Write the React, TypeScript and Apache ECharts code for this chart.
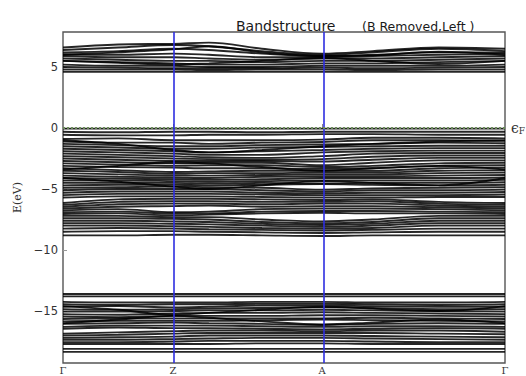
import React, { useEffect, useRef } from "react";
import * as echarts from "echarts";

// k-path sample positions (fractional distance along Γ–Z–A–Γ)
const kPos = [0, 0.125, 0.249, 0.33, 0.45, 0.586, 0.7, 0.85, 1];
const kTicks = [0, 0.249, 0.586, 1];
const kLabels = ["Γ", "Z", "A", "Γ"];
const yTicks = [-15, -10, -5, 0, 5];
const fermiLevel = 0;

// Conduction bands (eV) sampled at kPos
const conductionBands = [
  [6.6, 6.85, 6.9, 7.0, 6.5, 6.1, 6.3, 6.6, 6.5],
  [6.4, 6.6, 6.8, 6.7, 6.3, 6.0, 6.2, 6.5, 6.3],
  [6.2, 6.3, 6.5, 6.4, 6.1, 5.9, 6.0, 6.2, 6.2],
  [6.05, 6.0, 6.1, 6.0, 5.8, 5.8, 5.9, 6.0, 6.1],
  [5.9, 5.8, 5.8, 5.7, 5.6, 5.7, 5.7, 5.8, 5.9],
  [5.7, 5.6, 5.5, 5.5, 5.4, 5.5, 5.5, 5.6, 5.7],
  [5.5, 5.4, 5.3, 5.2, 5.2, 5.3, 5.3, 5.4, 5.5],
  [5.2, 5.1, 5.1, 5.0, 5.0, 5.1, 5.1, 5.1, 5.2],
  [5.0, 4.95, 4.9, 4.9, 4.9, 4.95, 4.9, 4.95, 5.0],
  [4.8, 4.8, 4.8, 4.75, 4.8, 4.8, 4.75, 4.8, 4.8],
  [4.6, 4.6, 4.6, 4.6, 4.6, 4.6, 4.6, 4.6, 4.6],
  [6.0, 6.2, 6.45, 6.7, 6.2, 5.9, 5.95, 6.25, 6.0],
  [5.5, 5.35, 5.2, 5.3, 5.5, 5.75, 5.5, 5.25, 5.5],
];

// Valence bands (eV) sampled at kPos
const valenceBands = [
  [-0.05, -0.05, -0.05, -0.05, -0.05, -0.05, -0.05, -0.05, -0.05],
  [-0.3, -0.35, -0.3, -0.3, -0.35, -0.3, -0.3, -0.3, -0.3],
  [-0.55, -0.6, -0.6, -0.55, -0.55, -0.5, -0.5, -0.55, -0.55],
  [-0.9, -0.85, -1.0, -1.0, -1.0, -0.95, -0.8, -0.8, -0.85],
  [-1.1, -1.2, -1.2, -1.3, -1.2, -1.15, -1.0, -1.0, -1.05],
  [-1.3, -1.4, -1.5, -1.5, -1.4, -1.35, -1.3, -1.2, -1.25],
  [-1.5, -1.6, -1.7, -1.7, -1.6, -1.55, -1.5, -1.45, -1.45],
  [-1.7, -1.8, -1.9, -2.0, -1.9, -1.8, -1.7, -1.65, -1.65],
  [-1.9, -2.0, -2.1, -2.2, -2.2, -2.0, -1.9, -1.85, -1.85],
  [-2.1, -2.2, -2.3, -2.4, -2.45, -2.3, -2.1, -2.05, -2.05],
  [-2.3, -2.4, -2.5, -2.55, -2.6, -2.55, -2.35, -2.25, -2.25],
  [-2.5, -2.6, -2.7, -2.7, -2.7, -2.75, -2.6, -2.45, -2.45],
  [-2.7, -2.8, -2.9, -2.85, -2.85, -3.05, -2.85, -2.65, -2.65],
  [-2.9, -3.0, -3.1, -3.05, -3.05, -3.2, -3.1, -2.9, -2.85],
  [-3.1, -3.2, -3.25, -3.3, -3.3, -3.35, -3.3, -3.1, -3.05],
  [-3.3, -3.45, -3.6, -3.55, -3.5, -3.5, -3.5, -3.3, -3.25],
  [-3.5, -3.6, -3.75, -3.7, -3.7, -3.65, -3.65, -3.5, -3.45],
  [-3.7, -3.8, -3.9, -3.9, -3.85, -3.8, -3.8, -3.7, -3.65],
  [-3.9, -4.0, -4.05, -4.1, -4.0, -3.95, -3.95, -3.9, -3.85],
  [-4.1, -4.15, -4.2, -4.25, -4.2, -4.1, -4.1, -4.1, -4.05],
  [-4.3, -4.3, -4.35, -4.4, -4.35, -4.3, -4.3, -4.3, -4.25],
  [-4.5, -4.5, -4.5, -4.55, -4.5, -4.55, -4.5, -4.5, -4.45],
  [-4.7, -4.65, -4.65, -4.7, -4.65, -4.6, -4.65, -4.7, -4.65],
  [-4.9, -4.85, -4.8, -4.85, -4.9, -5.05, -4.95, -4.9, -4.85],
  [-5.1, -5.0, -5.0, -5.0, -5.1, -5.2, -5.1, -5.1, -5.05],
  [-5.3, -5.2, -5.2, -5.2, -5.3, -5.35, -5.3, -5.3, -5.25],
  [-5.5, -5.4, -5.4, -5.4, -5.45, -5.5, -5.5, -5.5, -5.45],
  [-5.7, -5.6, -5.6, -5.6, -5.65, -5.7, -5.7, -5.65, -5.65],
  [-6.15, -5.85, -5.8, -5.8, -5.85, -5.9, -5.85, -6.05, -6.15],
  [-6.3, -6.05, -6.0, -6.0, -6.05, -6.05, -6.0, -6.2, -6.3],
  [-6.45, -6.25, -6.2, -6.2, -6.25, -6.2, -6.2, -6.35, -6.45],
  [-6.6, -6.45, -6.4, -6.35, -6.45, -6.4, -6.4, -6.5, -6.6],
  [-6.75, -6.65, -6.9, -6.85, -6.65, -6.6, -6.6, -6.65, -6.75],
  [-6.9, -6.85, -7.0, -7.0, -6.85, -6.8, -6.8, -6.85, -6.9],
  [-7.05, -7.0, -7.15, -7.1, -7.0, -6.95, -7.0, -7.0, -7.05],
  [-7.2, -7.2, -7.3, -7.3, -7.5, -7.65, -7.5, -7.2, -7.2],
  [-7.4, -7.4, -7.45, -7.5, -7.7, -7.8, -7.7, -7.4, -7.4],
  [-7.6, -7.6, -7.65, -7.7, -7.85, -7.95, -7.85, -7.6, -7.6],
  [-7.8, -7.8, -7.85, -7.9, -8.0, -8.1, -8.0, -7.8, -7.8],
  [-8.0, -8.0, -8.05, -8.1, -8.2, -8.25, -8.2, -8.0, -8.0],
  [-8.25, -8.2, -8.25, -8.3, -8.35, -8.4, -8.35, -8.25, -8.25],
  [-8.5, -8.45, -8.45, -8.5, -8.55, -8.6, -8.55, -8.5, -8.5],
  [-8.8, -8.8, -8.75, -8.75, -8.8, -8.85, -8.8, -8.8, -8.8],
  [-1.0, -1.3, -1.8, -2.0, -1.8, -1.5, -1.3, -1.1, -1.0],
  [-3.4, -3.1, -2.8, -2.9, -3.2, -3.5, -3.3, -3.1, -3.4],
  [-4.1, -4.4, -4.8, -5.0, -4.7, -4.35, -4.5, -4.7, -4.1],
];

// Semicore bands (eV) sampled at kPos
const coreBands = [
  [-13.6, -13.6, -13.6, -13.6, -13.6, -13.6, -13.6, -13.6, -13.6],
  [-13.8, -13.8, -13.8, -13.8, -13.8, -13.8, -13.8, -13.8, -13.8],
  [-14.25, -14.3, -14.3, -14.3, -14.25, -14.25, -14.3, -14.3, -14.25],
  [-14.45, -14.5, -14.45, -14.45, -14.4, -14.4, -14.45, -14.5, -14.45],
  [-14.65, -14.6, -14.7, -14.65, -14.55, -14.55, -14.6, -14.65, -14.65],
  [-14.85, -14.9, -14.85, -14.8, -14.75, -14.7, -14.75, -14.85, -14.85],
  [-15.05, -15.05, -15.0, -14.95, -14.95, -14.9, -14.95, -15.0, -15.05],
  [-15.25, -15.3, -15.2, -15.15, -15.15, -15.1, -15.15, -15.2, -15.25],
  [-15.45, -15.5, -15.4, -15.4, -15.4, -15.35, -15.35, -15.4, -15.45],
  [-15.65, -15.6, -15.6, -15.6, -15.6, -15.6, -15.55, -15.6, -15.65],
  [-15.85, -15.8, -15.8, -15.8, -15.75, -15.7, -15.75, -15.8, -15.85],
  [-16.05, -16.0, -15.95, -16.0, -16.05, -16.15, -16.05, -16.0, -16.05],
  [-16.3, -16.2, -16.2, -16.2, -16.25, -16.3, -16.25, -16.25, -16.3],
  [-16.45, -16.35, -16.4, -16.4, -16.45, -16.5, -16.45, -16.4, -16.45],
  [-16.85, -16.75, -16.65, -16.6, -16.6, -16.65, -16.6, -16.6, -16.7],
  [-17.0, -16.95, -16.85, -16.8, -16.8, -16.8, -16.8, -16.85, -16.9],
  [-17.2, -17.15, -17.1, -17.0, -17.0, -17.0, -17.05, -17.1, -17.15],
  [-17.35, -17.35, -17.3, -17.25, -17.2, -17.2, -17.25, -17.3, -17.35],
  [-17.55, -17.55, -17.5, -17.45, -17.45, -17.45, -17.5, -17.55, -17.55],
  [-17.7, -17.7, -17.7, -17.7, -17.65, -17.65, -17.7, -17.7, -17.7],
  [-18.1, -18.1, -18.1, -18.1, -18.1, -18.1, -18.1, -18.1, -18.1],
  [-18.35, -18.35, -18.35, -18.35, -18.35, -18.35, -18.35, -18.35, -18.35],
  [-14.6, -14.9, -15.3, -15.15, -14.9, -14.65, -14.8, -15.0, -14.6],
  [-16.0, -15.7, -15.4, -15.55, -15.85, -16.1, -15.95, -15.7, -16.0],
];

const allBands = [...conductionBands, ...valenceBands, ...coreBands];

export default function App() {
  const ref = useRef<HTMLDivElement>(null);
  useEffect(() => {
    if (!ref.current) return;
    const chart = echarts.init(ref.current, null, { renderer: "svg" });
    const bandSeries = allBands.map((band) => ({
      type: "line",
      data: kPos.map((k, i) => [k, band[i]]),
      symbol: "none",
      smooth: 0.35,
      silent: true,
      lineStyle: { color: "#000", width: 1.9, opacity: 0.85 },
      z: 2,
    }));
    const markerSeries = {
      type: "line",
      data: [],
      silent: true,
      z: 5,
      markLine: {
        symbol: "none",
        silent: true,
        animation: false,
        data: [
          {
            xAxis: kTicks[1],
            lineStyle: { color: "#2e2ee0", width: 1.6, type: "solid" },
            label: { show: false },
          },
          {
            xAxis: kTicks[2],
            lineStyle: { color: "#2e2ee0", width: 1.6, type: "solid" },
            label: { show: false },
          },
          {
            yAxis: fermiLevel,
            lineStyle: { color: "#6b8a5a", width: 2, type: "dotted" },
            label: {
              show: true,
              position: "end",
              distance: 6,
              formatter: "{e|ϵ}{s|F}",
              rich: {
                e: { fontFamily: "DejaVu Serif", fontSize: 14, color: "#333" },
                s: {
                  fontFamily: "DejaVu Serif",
                  fontSize: 9,
                  color: "#333",
                  verticalAlign: "bottom",
                  padding: [5, 0, 0, 0],
                },
              },
            },
          },
        ],
      },
    };
    chart.setOption({
      animation: false,
      backgroundColor: "#fff",
      title: [
        {
          text: "Bandstructure",
          left: 231,
          top: 14,
          textStyle: {
            fontFamily: "DejaVu Sans",
            fontSize: 14,
            fontWeight: "normal",
            color: "#1a1a1a",
          },
        },
        {
          text: "(B Removed,Left )",
          left: 357,
          top: 15,
          textStyle: {
            fontFamily: "DejaVu Sans",
            fontSize: 12.5,
            fontWeight: "normal",
            color: "#1a1a1a",
          },
        },
      ],
      grid: {
        left: 63,
        right: 21,
        top: 32,
        bottom: 13,
        show: true,
        containLabel: false,
        outerBoundsMode: "none",
        borderColor: "#555",
        borderWidth: 1.4,
        backgroundColor: "transparent",
      },
      xAxis: {
        type: "value",
        min: 0,
        max: 1,
        axisLine: { show: false },
        splitLine: { show: false },
        axisTick: { show: true, inside: true, length: 4, customValues: kTicks, lineStyle: { color: "#888" } },
        axisLabel: {
          customValues: kTicks,
          margin: 2,
          fontFamily: "DejaVu Serif",
          fontSize: 10,
          lineHeight: 10,
          color: "#333",
          formatter: (v: number) => {
            const idx = kTicks.findIndex((t) => Math.abs(t - v) < 1e-6);
            return idx >= 0 ? kLabels[idx] : "";
          },
        },
      },
      yAxis: {
        type: "value",
        min: -19.26,
        max: 7.87,
        name: "E(eV)",
        nameLocation: "middle",
        nameGap: 39,
        nameTextStyle: { fontFamily: "DejaVu Serif", fontSize: 11, color: "#333" },
        axisLine: { show: false },
        splitLine: { show: false },
        axisTick: { show: true, inside: true, length: 4, customValues: yTicks, lineStyle: { color: "#999" } },
        axisLabel: {
          customValues: yTicks,
          margin: 5,
          fontFamily: "DejaVu Sans",
          fontSize: 11.5,
          color: "#333",
          formatter: (v: number) => String(v).replace("-", "\u2212"),
        },
      },
      series: [...bandSeries, markerSeries],
    });
    return () => chart.dispose();
  }, []);
  return (
    <div
      ref={ref}
      style={{ position: "fixed", left: 0, top: 0, width: 526, height: 376 }}
    />
  );
}
